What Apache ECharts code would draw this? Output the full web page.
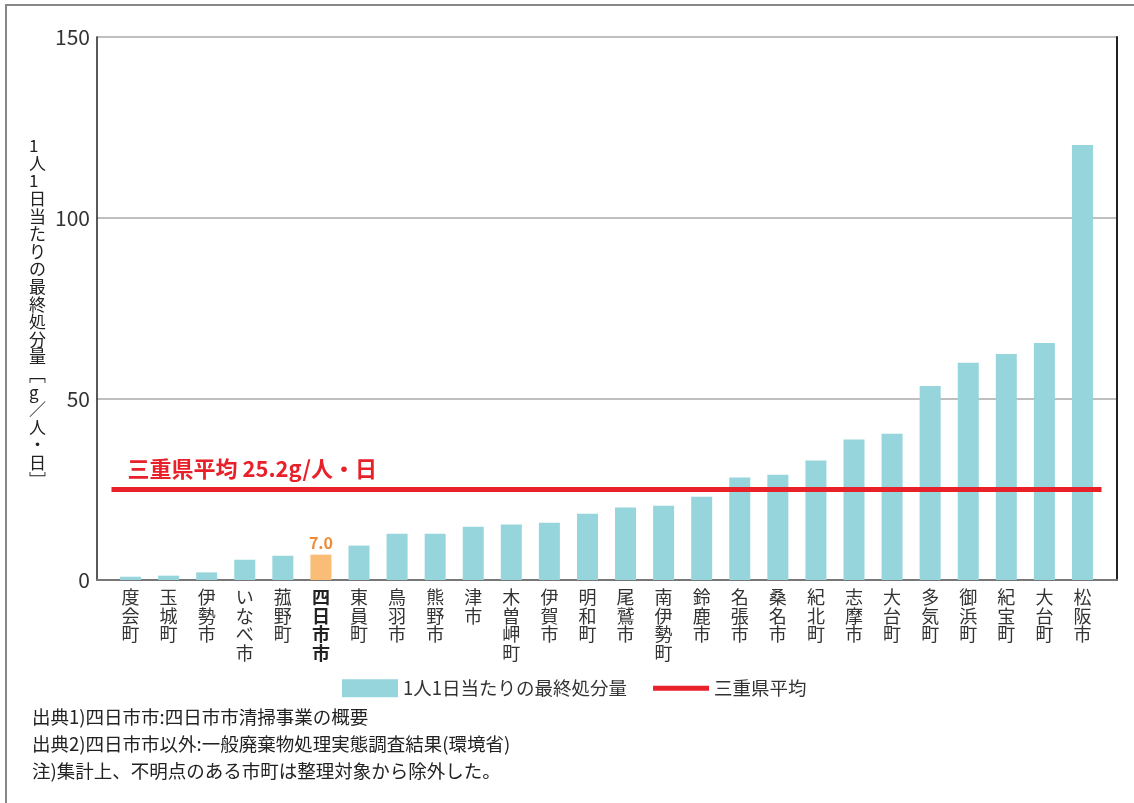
<!DOCTYPE html>
<html><head><meta charset="utf-8">
<script src="https://cdn.jsdelivr.net/npm/echarts@6/dist/echarts.min.js"></script>
<style>html,body{margin:0;padding:0;background:#fff;}#c{width:1134px;height:803px;}</style>
</head><body><div id="c"></div>
<script>
const categories = ['度会町','玉城町','伊勢市','いなべ市','菰野町','四日市市','東員町','鳥羽市','熊野市','津市','木曽岬町','伊賀市','明和町','尾鷲市','南伊勢町','鈴鹿市','名張市','桑名市','紀北町','志摩市','大台町','多気町','御浜町','紀宝町','大台町','松阪市'];
const values = [0.9,1.2,2.1,5.6,6.7,7.0,9.5,12.8,12.8,14.7,15.3,15.8,18.3,20.0,20.5,23.0,28.3,29.1,33.0,38.8,40.4,53.6,60.0,62.4,65.5,120.2];
const highlightName = '四日市市';
const prefAverage = 25.2;
const yTicks = [0, 50, 100, 150];
const seriesNames = ['1人1日当たりの最終処分量', '三重県平均'];
const yAxisTitleChars = ['1','人','1','日','当','た','り','の','最','終','処','分','量','﹇','g','／','人','・','日','﹈'];
const avgLabel = '三重県平均 25.2g/人・日';
const notes = ['出典1)四日市市:四日市市清掃事業の概要','出典2)四日市市以外:一般廃棄物処理実態調査結果(環境省)','注)集計上、不明点のある市町は整理対象から除外した。'];

const FONT = '"Noto Sans CJK JP", "Noto Sans", sans-serif';
const hiIndex = categories.indexOf(highlightName);
const barData = values.map((v, i) => i === hiIndex ? {
  value: v,
  itemStyle: { color: '#F9BD77' },
  label: { show: true, position: 'top', distance: 4, formatter: v.toFixed(1), color: '#F08A32', fontWeight: 'bold', fontSize: 16, fontFamily: FONT }
} : v);

const chart = echarts.init(document.getElementById('c'), null, { renderer: 'canvas' });
chart.setOption({
  animation: false,
  textStyle: { fontFamily: FONT },
  grid: [
    { left: 97, right: 17, top: 37, bottom: 223 },
    { left: 111.5, right: 32.5, top: 37, bottom: 223 }
  ],
  xAxis: [
    { gridIndex: 0, type: 'value', min: 0, max: 1, axisLabel: { show: false }, axisTick: { show: false }, splitLine: { show: false },
      axisLine: { show: true, lineStyle: { color: '#777', width: 2 } } },
    { gridIndex: 1, type: 'category', data: categories, axisLine: { show: false }, axisTick: { show: false },
      axisLabel: { interval: 0, margin: 8, color: '#333', fontSize: 18, lineHeight: 18.5, fontFamily: FONT,
        formatter: (v) => { const s = v.split('').join('\n'); return v === highlightName ? '{b|' + s + '}' : s; },
        rich: { b: { fontWeight: 'bold', fontSize: 18, lineHeight: 18.5, color: '#222', fontFamily: FONT } } } }
  ],
  yAxis: [
    { gridIndex: 0, type: 'value', min: yTicks[0], max: yTicks[yTicks.length - 1], interval: 50,
      axisLine: { show: true, lineStyle: { color: '#222', width: 1.5 } }, axisTick: { show: false },
      axisLabel: { color: '#333', fontSize: 21, margin: 7, fontFamily: FONT },
      splitLine: { show: true, lineStyle: { color: '#aaa', width: 1.5 } } },
    { gridIndex: 0, type: 'value', position: 'right', min: 0, max: 150, interval: 50,
      axisLine: { show: true, lineStyle: { color: '#222', width: 2 } }, axisTick: { show: false }, axisLabel: { show: false }, splitLine: { show: false } },
    { gridIndex: 1, type: 'value', min: 0, max: 150, interval: 50, show: false }
  ],
  legend: {
    left: 342, top: 679, padding: 0, itemWidth: 56, itemHeight: 18, itemGap: 26,
    textStyle: { fontSize: 18.5, color: '#333', fontFamily: FONT },
    data: [
      { name: seriesNames[0], icon: 'rect' },
      { name: seriesNames[1], icon: 'path://M0,0L0,0M0,6.5L56,6.5L56,11.5L0,11.5ZM0,18L0,18', itemStyle: { color: '#E8202A', borderWidth: 0 } }
    ]
  },
  series: [
    { name: seriesNames[0], type: 'bar', xAxisIndex: 1, yAxisIndex: 2, data: barData, barWidth: 21,
      itemStyle: { color: '#95D5DB' } },
    { name: seriesNames[1], type: 'line', xAxisIndex: 1, yAxisIndex: 2, data: [], symbol: 'none', showSymbol: false,
      itemStyle: { color: '#E8202A' }, lineStyle: { color: '#E8202A', width: 5 },
      markLine: { silent: true, symbol: 'none', animation: false,
        lineStyle: { color: '#E8202A', width: 5, type: 'solid' },
        label: { show: true, position: 'insideStartTop', distance: [16, 9], formatter: avgLabel,
          color: '#E8202A', fontSize: 22, fontWeight: 'bold', fontFamily: FONT },
        data: [{ yAxis: prefAverage }] } }
  ],
  graphic: [
    { type: 'polyline', shape: { points: [[6, 803], [6, 5], [1134, 5]] }, style: { stroke: '#888', lineWidth: 2, fill: null } },
    { type: 'text', left: 29, top: 137, style: { text: yAxisTitleChars.join('\n'), font: '17px ' + FONT, lineHeight: 17.6, fill: '#222', align: 'center' } },
    { type: 'text', left: 32, top: 708, style: { text: notes[0], font: '18.5px ' + FONT, fill: '#222' } },
    { type: 'text', left: 32, top: 735, style: { text: notes[1], font: '18.5px ' + FONT, fill: '#222' } },
    { type: 'text', left: 32, top: 762, style: { text: notes[2], font: '18.5px ' + FONT, fill: '#222' } }
  ]
});
</script></body></html>
